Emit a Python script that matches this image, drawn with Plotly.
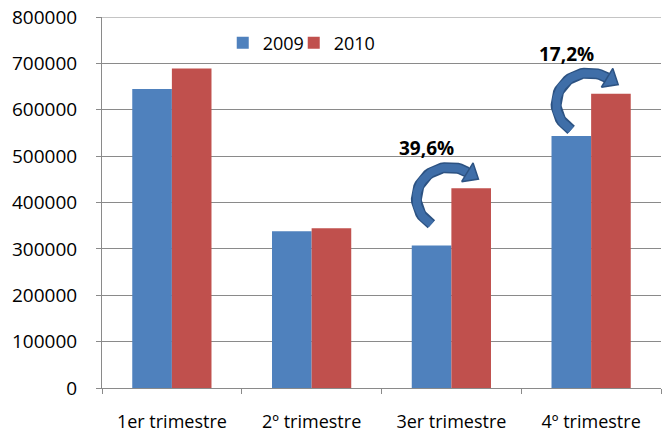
import numpy as np
import plotly.graph_objects as go

categories = ["1er trimestre", "2º trimestre", "3er trimestre", "4º trimestre"]
series_names = ["2009", "2010"]
values_2009 = [644500, 337800, 307500, 543600]
values_2010 = [689000, 344300, 430600, 634300]
growth_idx = [2, 3]
growth_labels = ["39,6%", "17,2%"]
y_ticks = [0, 100000, 200000, 300000, 400000, 500000, 600000, 700000, 800000]

colors = ["#4F81BD", "#C0504D"]
FONT = "Open Sans"
W, H = 672, 432
ML, MR, MT, MB = 102, 11, 17, 44
plot_w = W - ML - MR
plot_h = H - MT - MB
YMAX = 800000
pxc = plot_w / len(categories)     # px per category
pxu = plot_h / YMAX                # px per data unit

fig = go.Figure()
legend_ids = ["legend", "legend2"]
for name, vals, col, lg in zip(series_names, [values_2009, values_2010], colors, legend_ids):
    fig.add_trace(go.Bar(x=categories, y=vals, name=name, marker_color=col,
                         marker_line_width=0, legend=lg))

# curved arrows (shape in pixel offsets relative to category centre / 2010 bar top)
arrow_col = "#3F6EA8"
arrow_edge = "#2C5282"
cx_off, cy_off = -2, 10
rx, ry = 33, 31
for i, lab in zip(growth_idx, growth_labels):
    top = values_2010[i]
    th = np.radians(np.linspace(237, 57, 40))
    px = cx_off + rx * np.cos(th)
    py = cy_off - ry * np.sin(th)          # pixel y (down positive)
    xs = i + px / pxc
    ys = top - py / pxu
    fig.add_trace(go.Scatter(x=xs, y=ys, xaxis="x2", mode="lines",
                             line=dict(color=arrow_edge, width=11),
                             showlegend=False, hoverinfo="skip", cliponaxis=False))
    fig.add_trace(go.Scatter(x=xs, y=ys, xaxis="x2", mode="lines",
                             line=dict(color=arrow_col, width=8),
                             showlegend=False, hoverinfo="skip", cliponaxis=False))
    # arrowhead
    te = th[-1]
    bx, by = px[-1], py[-1]
    tx, ty = rx * np.sin(te), ry * np.cos(te)
    n = np.hypot(tx, ty); tx, ty = tx / n, ty / n
    nx, ny = -ty, tx
    hl, hw = 13, 11
    hx = [bx + nx * hw, bx + tx * hl, bx - nx * hw, bx + nx * hw]
    hy = [by + ny * hw, by + ty * hl, by - ny * hw, by + ny * hw]
    fig.add_trace(go.Scatter(x=[i + v / pxc for v in hx], y=[top - v / pxu for v in hy],
                             xaxis="x2", mode="lines", fill="toself", fillcolor=arrow_col,
                             line=dict(color=arrow_edge, width=1.5),
                             showlegend=False, hoverinfo="skip", cliponaxis=False))
    fig.add_annotation(x=i - 25 / pxc, y=top + 40 / pxu, xref="x2", yref="y", text=f"<b>{lab}</b>",
                       showarrow=False, font=dict(family=FONT, size=19, color="black"))

grid = "#8A8A8A"
# top grid line at the end of the value range
fig.add_shape(type="line", xref="paper", yref="y", x0=0, x1=1, y0=YMAX, y1=YMAX,
              line=dict(color=grid, width=1), layer="above")
leg_common = dict(orientation="h", y=0.93, xanchor="left", yanchor="middle",
                  font=dict(family=FONT, size=18), bgcolor="rgba(0,0,0,0)", itemwidth=30)
fig.update_layout(
    width=W, height=H,
    margin=dict(l=ML, r=MR, t=MT, b=MB, pad=0, autoexpand=False),
    paper_bgcolor="white", plot_bgcolor="white",
    barmode="group", bargap=0.433, bargroupgap=0,
    font=dict(family=FONT, size=18, color="black"),
    showlegend=True,
    legend=dict(x=0.216, **leg_common),
    legend2=dict(x=0.343, **leg_common),
    xaxis2=dict(overlaying="x", range=[-0.5, 3.5], visible=False, type="linear"),
)
fig.update_layout(xaxis=dict(type="category", showline=True, linecolor=grid, linewidth=1,
                             ticks="outside", ticklen=5, tickcolor=grid, tickson="boundaries",
                             showgrid=False, tickfont=dict(family=FONT, size=18),
                             ticklabelstandoff=17, range=[-0.5, 3.5], automargin=False))
fig.update_yaxes(range=[0, YMAX], tickvals=y_ticks, tickformat="d",
                 showline=True, linecolor=grid, linewidth=1,
                 ticks="outside", ticklen=5, tickcolor=grid,
                 showgrid=True, gridcolor=grid, gridwidth=1, zeroline=False,
                 tickfont=dict(family=FONT, size=19), ticklabelstandoff=15, automargin=False)

# remove the browser's default 8px page margin so the figure fills the window exactly
fig.write_html("out.html", config={"displayModeBar": False},
               post_script="document.body.style.margin='0px';")
